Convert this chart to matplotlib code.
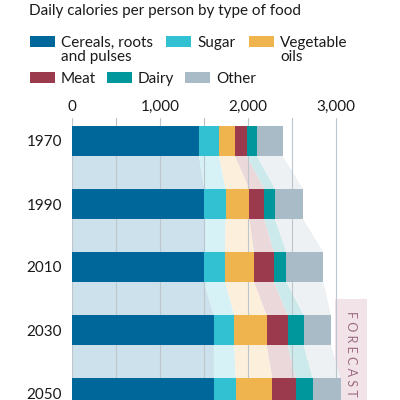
import matplotlib.pyplot as plt
from matplotlib.patches import Rectangle, Polygon
from matplotlib.colors import to_rgb
import numpy as np

plt.rcParams['font.family'] = ['Lato', 'DejaVu Sans']

# データ（1人1日あたりのカロリー）
years = ['1970', '1990', '2010', '2030', '2050']
foods = ['Cereals, roots\nand pulses', 'Sugar', 'Vegetable\noils', 'Meat', 'Dairy', 'Other']
cereals = [1443, 1504, 1500, 1610, 1610]
sugar = [227, 242, 239, 235, 250]
veg_oils = [182, 269, 329, 367, 417]
meat = [133, 171, 227, 239, 268]
dairy = [117, 121, 141, 182, 190]
other = [292, 318, 420, 310, 318]
x_ticks = [0, 1000, 2000, 3000]
x_ticklabels = ['0', '1,000', '2,000', '3,000']

colors = ['#00679a', '#32c0d3', '#f0b44e', '#9a3a4c', '#00979c', '#a8bbc6']
text_color = '#1a1a1a'


def light(c, a=0.2):
    r = np.array(to_rgb(c))
    return tuple(a * r + (1 - a))


W, H = 400, 400
fig = plt.figure(figsize=(4, 4), dpi=100)

# 軸の位置（ピクセル基準）
ax_left, ax_top = 72, 118
ax = fig.add_axes([ax_left / W, 0, 1 - ax_left / W, 1 - ax_top / H])

px_per_1000 = 88
ax.set_xlim(0, (W - ax_left) / px_per_1000 * 1000)
row_px, first_px = 63, 141
ax.set_ylim((H - first_px) / row_px, (ax_top - first_px) / row_px)
bar_h = 30 / row_px

series = np.array([cereals, sugar, veg_oils, meat, dairy, other])
rights = np.cumsum(series, axis=0)
lefts = rights - series
ypos = np.arange(len(years))

# 棒
for k in range(len(foods)):
    ax.barh(ypos, series[k], left=lefts[k], height=bar_h, color=colors[k],
            edgecolor='none', zorder=4)

# 棒同士をつなぐ帯
for i in range(len(years) - 1):
    y0 = ypos[i] + bar_h / 2
    y1 = ypos[i + 1] - bar_h / 2
    for k in range(len(foods)):
        poly = Polygon([(lefts[k][i], y0), (rights[k][i], y0),
                        (rights[k][i + 1], y1), (lefts[k][i + 1], y1)],
                       closed=True, facecolor=light(colors[k]), edgecolor='none',
                       zorder=1)
        ax.add_patch(poly)

# 予測期間のボックス
ax.add_patch(Rectangle((2990, 2.508), 362, 3, facecolor='#f2e3e9',
                       edgecolor='none', zorder=0.5))
fig.text(351 / W, 1 - 311 / H, 'F O R E C A S T', rotation=-90,
         ha='center', va='top', fontsize=9, color='#9c6b82')

# グリッド
for g in np.arange(0, 3500, 500):
    ax.axvline(g, color='#bcc6cc', lw=0.8, zorder=2)

ax.set_xticks(x_ticks)
ax.set_xticklabels(x_ticklabels)
ax.xaxis.tick_top()
ax.tick_params(axis='x', length=0, pad=3, labelsize=11, labelcolor=text_color)
ax.set_yticks(ypos)
ax.set_yticklabels(years)
ax.tick_params(axis='y', length=0, pad=7, labelsize=11, labelcolor=text_color)
for s in ['top', 'right', 'bottom', 'left']:
    ax.spines[s].set_visible(False)

# タイトル
fig.text(29 / W, 1 - 4 / H, 'Daily calories per person by type of food',
         ha='left', va='top', fontsize=11, color=text_color)

# 凡例（手動配置）
legend_pos = [(30, 36), (166, 36), (249, 36), (30, 72), (107, 72), (185, 72)]
for k, (lx, ly) in enumerate(legend_pos):
    fig.patches.append(Rectangle((lx / W, 1 - (ly + 11) / H), 25 / W, 11 / H,
                                 transform=fig.transFigure, facecolor=colors[k],
                                 edgecolor='none'))
    fig.text((lx + 31) / W, 1 - ly / H, foods[k], ha='left', va='top',
             fontsize=11, color=text_color, linespacing=1.0)

fig.savefig('out.png', dpi=100)
